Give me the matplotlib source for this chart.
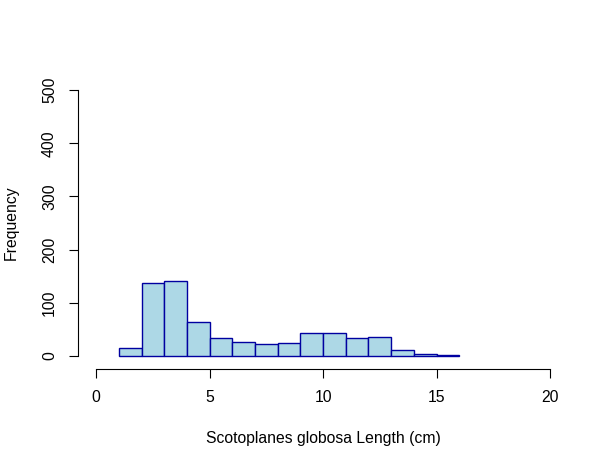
import matplotlib.pyplot as plt
import numpy as np

plt.rcParams['font.family'] = ['Liberation Sans', 'DejaVu Sans']

# histogram bins (cm) and counts
bin_edges = np.arange(1, 17)
counts = [15, 137, 141, 63, 34, 26, 23, 24, 43, 43, 33, 35, 11, 4, 2]

x_ticks = [0, 5, 10, 15, 20]
y_ticks = [0, 100, 200, 300, 400, 500]

fig = plt.figure(figsize=(6.09, 4.66), dpi=100)
ax = fig.add_axes([0.128, 0.2133, 0.805, 0.6163])

ax.bar(bin_edges[:-1], counts, width=1, align='edge',
       color='lightblue', edgecolor='#0000A0', linewidth=1)

ax.set_xlim(-0.8, 20.8)
ax.set_ylim(-20, 520)

# R-style detached axes
for s in ['top', 'right']:
    ax.spines[s].set_visible(False)
ax.spines['left'].set_bounds(0, 500)
ax.spines['bottom'].set_bounds(0, 20)
ax.spines['bottom'].set_position(('outward', 1.5))

ax.set_xticks(x_ticks)
ax.set_yticks(y_ticks)
ax.set_yticklabels([str(v) for v in y_ticks], rotation=90, va='center')
ax.tick_params(direction='out', length=6.5, labelsize=11.3, pad=8.5)

ax.set_xlabel('Scotoplanes globosa Length (cm)', fontsize=11.3, labelpad=19)
ax.set_ylabel('Frequency', fontsize=11.3, labelpad=17)

fig.savefig('out.png', dpi=100)
